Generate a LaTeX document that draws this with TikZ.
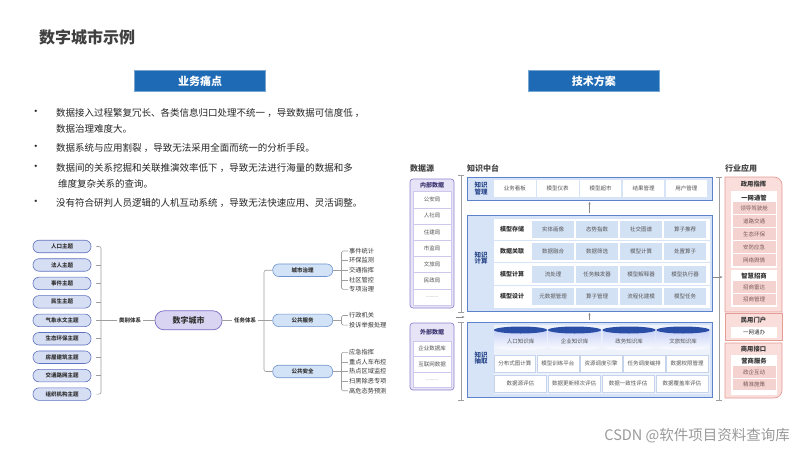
\documentclass[tikz,border=0pt]{standalone}
\usepackage{fontspec}
\setmainfont{Noto Sans CJK SC}
\usetikzlibrary{arrows.meta}
\newcommand\fsz[1]{\fontsize{#1}{#1}\selectfont}
\definecolor{titlegray}{HTML}{404040}
\definecolor{hdrblue}{HTML}{1E6AB5}
\definecolor{bodytext}{HTML}{262626}
\definecolor{darktext}{HTML}{333333}
\definecolor{topicb}{HTML}{5E72BF}
\definecolor{topicf}{HTML}{D6DEF4}
\definecolor{cityb}{HTML}{7B6CC6}
\definecolor{cityf}{HTML}{DAD4F3}
\definecolor{grpb}{HTML}{6F93CF}
\definecolor{grpf}{HTML}{D3E3F7}
\definecolor{mmgray}{HTML}{9E9E9E}
\definecolor{sectgray}{HTML}{444444}
\definecolor{dsborder}{HTML}{8F85D1}
\definecolor{dsfill}{HTML}{E8E4F7}
\definecolor{dscellb}{HTML}{CFC8EC}
\definecolor{dsheadc}{HTML}{3B3470}
\definecolor{kborder}{HTML}{5C82CC}
\definecolor{kfill}{HTML}{D7E3F6}
\definecolor{kcell}{HTML}{D3E1F5}
\definecolor{kcellb}{HTML}{C5D3EC}
\definecolor{klabc}{HTML}{2C4A8C}
\definecolor{celltext}{HTML}{555555}
\definecolor{cyltop}{HTML}{2A4DA6}
\definecolor{iborder}{HTML}{E59C95}
\definecolor{ifill}{HTML}{F9DEDB}
\definecolor{icellc}{HTML}{F4D2CF}
\definecolor{icelltext}{HTML}{7A5A58}
\definecolor{arrgray}{HTML}{888888}
\definecolor{wmgray}{HTML}{9A9A9A}
\begin{document}
\begin{tikzpicture}[x=1pt,y=-1pt,
  titlenode/.style={anchor=west, font=\fsz{16}\bfseries, text=titlegray, inner sep=0pt},
  hdr/.style={fill=hdrblue, draw=hdrblue!60!white, text=white, font=\fsz{11}\bfseries, minimum width=131pt, minimum height=21pt, inner sep=0pt, line width=0.6pt},
  bul/.style={anchor=west, font=\fsz{9.5}, text=bodytext, inner sep=0pt},
  bdot/.style={font=\fsz{11}, text=bodytext, inner sep=0pt},
  topic/.style={draw=topicb, fill=topicf, rounded corners=6pt, minimum width=58pt, minimum height=12.5pt, inner sep=0pt, font=\fsz{5.5}\bfseries, text=darktext, line width=0.6pt},
  city/.style={draw=cityb, fill=cityf, rounded corners=9pt, minimum width=67pt, minimum height=19pt, inner sep=0pt, font=\fsz{8}\bfseries, text=darktext, line width=0.7pt},
  grp/.style={draw=grpb, fill=grpf, rounded corners=6pt, minimum width=60pt, minimum height=12.5pt, inner sep=0pt, font=\fsz{5.5}\bfseries, text=darktext, line width=0.6pt},
  mmlab/.style={font=\fsz{5.5}\bfseries, text=darktext, inner sep=1.5pt},
  leaf/.style={anchor=west, font=\fsz{6.2}, text=darktext, inner sep=1pt},
  mm/.style={draw=mmgray, line width=0.6pt},
  sect/.style={anchor=west, font=\fsz{8}\bfseries, text=sectgray, inner sep=0pt},
  dsbox/.style={draw=dsborder, fill=dsfill, rounded corners=3pt, line width=0.7pt, inner sep=0pt},
  dscell/.style={draw=dscellb, fill=white, minimum width=38pt, inner sep=0pt, font=\fsz{5.5}, text=celltext, line width=0.4pt},
  dshead/.style={font=\fsz{6}\bfseries, text=dsheadc, inner sep=0pt},
  kbox/.style={draw=kborder, fill=kfill, line width=0.8pt, inner sep=0pt},
  klab/.style={font=\fsz{6.5}\bfseries, text=klabc, align=center, inner sep=0pt},
  kwcell/.style={fill=white, minimum height=17pt, inner sep=0pt, font=\fsz{5.5}, text=celltext},
  kbcell/.style={fill=kcell, minimum width=42.5pt, minimum height=17pt, inner sep=0pt, font=\fsz{5.5}, text=celltext},
  kecell/.style={fill=white, draw=kcellb, line width=0.4pt, minimum height=17pt, inner sep=0pt, font=\fsz{5.5}, text=celltext},
  rowlab/.style={font=\fsz{6}\bfseries, text=darktext, inner sep=0pt},
  sa/.style={-{Stealth[length=2.5pt,width=2.2pt]}, draw=arrgray, line width=0.4pt},
  brk/.style={draw=mmgray, line width=0.6pt},
  ibox/.style={draw=iborder, fill=ifill, line width=0.7pt},
  ihead/.style={font=\fsz{6.3}\bfseries, text=darktext, inner sep=0pt},
  icell/.style={fill=icellc, minimum width=43pt, minimum height=11.5pt, inner sep=0pt, font=\fsz{5.5}, text=icelltext},
  iwcell/.style={fill=white, minimum width=46pt, minimum height=11.5pt, inner sep=0pt, font=\fsz{5.5}, text=darktext}
]
\useasboundingbox (0,0) rectangle (800,450);
\fill[white] (0,0) rectangle (800,450);

% ---------- title and headers ----------
\node[titlenode] (title) at (39,37) {数字城市示例};
\node[hdr] (h1) at (200,80.8) {业务痛点};
\node[hdr] (h2) at (593.8,80.8) {技术方案};

% ---------- bullets ----------
\node[bdot] (d1) at (36,113) {•};
\node[bul] (b1) at (56,113) {数据接入过程繁复冗长、各类信息归口处理不统一 ，导致数据可信度低 ，};
\node[bul] (b1b) at (56,128.5) {数据治理难度大。};
\node[bdot] (d2) at (36,148) {•};
\node[bul] (b2) at (56,148) {数据系统与应用割裂 ，导致无法采用全面而统一的分析手段。};
\node[bdot] (d3) at (36,168) {•};
\node[bul] (b3) at (56,168) {数据间的关系挖掘和关联推演效率低下 ，导致无法进行海量的数据和多};
\node[bul] (b3b) at (58,184) {维度复杂关系的查询。};
\node[bdot] (d4) at (36,203) {•};
\node[bul] (b4) at (56,203) {没有符合研判人员逻辑的人机互动系统 ，导致无法快速应用、灵活调整。};

% ---------- mind map ----------
\foreach \t [count=\k] in {人口主题,法人主题,事件主题,民生主题,气象水文主题,生态环保主题,房屋建筑主题,交通路网主题,组织机构主题}
  \node[topic] (t\k) at (62,{246.5+18.45*(\k-1)}) {\t};
\coordinate (bx1) at (101,320.3);
\node[mmlab] (lb1) at (130,320.3) {类别体系};
\node[city] (city) at (188.5,320.3) {数字城市};
\node[mmlab] (lb2) at (245,320.3) {任务体系};
\coordinate (bx2) at (264,320.3);
\node[grp] (g1) at (302.7,270.2) {城市治理};
\node[grp] (g2) at (302.7,320.3) {公共服务};
\node[grp] (g3) at (302.7,371.5) {公共安全};

\draw[mm,rounded corners=2pt] ([xshift=5pt]t1.east) -- (t1.east -| bx1) -- (t9.east -| bx1) -- ([xshift=5pt]t9.east);
\foreach \k in {2,...,8} \draw[mm] ([xshift=5pt]t\k.east) -- (t\k.east -| bx1);
\draw[mm] (bx1) -- (lb1.west);
\draw[mm] (lb1.east) -- (city.west);
\draw[mm] (city.east) -- (lb2.west);
\draw[mm] (lb2.east) -- (bx2);
\draw[mm,rounded corners=2pt] (g1.west) -- (g1.west -| bx2) -- (g3.west -| bx2) -- (g3.west);
\draw[mm] (g2.west) -- (bx2);

\coordinate (cx) at (341.5,0);
\foreach \t [count=\k] in {事件统计,环保监测,交通指挥,社区管控,专项治理}
  \node[leaf] (la\k) at (348,{251+9.6*(\k-1)}) {\t};
\foreach \t [count=\k] in {行政机关,投诉举报处理}
  \node[leaf] (lb\k) at (348,{315.5+9.6*(\k-1)}) {\t};
\foreach \t [count=\k] in {应急指挥,重点人车布控,热点区域监控,扫黑除恶专项,高危态势预测}
  \node[leaf] (lc\k) at (348,{352.3+9.6*(\k-1)}) {\t};
\draw[mm] (g1.east) -- (g1.east -| cx);
\draw[mm,rounded corners=1.5pt] (la1.west) -- (la1.west -| cx) -- (la5.west -| cx) -- (la5.west);
\foreach \k in {2,3,4} \draw[mm] (la\k.west) -- (la\k.west -| cx);
\draw[mm] (g2.east) -- (g2.east -| cx);
\draw[mm,rounded corners=1.5pt] (lb1.west) -- (lb1.west -| cx) -- (lb2.west -| cx) -- (lb2.west);
\draw[mm] (g3.east) -- (g3.east -| cx);
\draw[mm,rounded corners=1.5pt] (lc1.west) -- (lc1.west -| cx) -- (lc5.west -| cx) -- (lc5.west);
\foreach \k in {2,3,4} \draw[mm] (lc\k.west) -- (lc\k.west -| cx);

% ---------- section titles ----------
\node[sect] (s1) at (410,168) {数据源};
\node[sect] (s2) at (467,168) {知识中台};
\node[sect] (s3) at (725,168) {行业应用};

% ---------- data sources ----------
\node[dsbox, minimum width=44pt, minimum height=129pt] (dsin) at (432,243.5) {};
\node[dshead] (dsinh) at (432,185) {内部数据};
\foreach \t [count=\k] in {公安局,人社局,住建局,市监局,文旅局,民政局,……}
  \node[dscell, minimum height=16.2pt] (dsi\k) at (432,{199.6+16.2*(\k-1)}) {\t};
\node[dsbox, minimum width=44pt, minimum height=67pt] (dsex) at (432,356.5) {};
\node[dshead] (dsexh) at (432,332.5) {外部数据};
\foreach \t [count=\k] in {企业数据库,互联网数据,……}
  \node[dscell, minimum height=15.5pt] (dse\k) at (432,{348.75+15.5*(\k-1)}) {\t};

% left brackets
\coordinate (lbt) at (461,175);
\coordinate (lbb) at (461,312);
\coordinate (lbt2) at (461,322);
\coordinate (lbb2) at (461,400);
\draw[brk] (lbt) -- (lbb);
\draw[brk] (lbt2) -- (lbb2);
\foreach \c in {lbt,lbb,lbt2,lbb2} \draw[brk] ([xshift=-3pt]\c) -- ([xshift=3pt]\c);
\coordinate (la0) at (455.5,317);
\coordinate (la9) at (464.5,317);
\draw[sa] (la0) -- (la9);

% ---------- knowledge management ----------
\node[kbox, minimum width=245pt, minimum height=23pt] (km) at (589.5,188.5) {};
\node[klab] (kml) at (481,188.5) {\fontsize{6.5}{8}\selectfont 知识\\管理};
\foreach \t [count=\k] in {业务看板,模型仪表,模型超市,结果管理,用户管理}
  \node[kwcell, minimum width=41.6pt] (km\k) at ({514.8+42.9*(\k-1)},188.5) {\t};

% ---------- knowledge computing ----------
\node[kbox, minimum width=245pt, minimum height=96pt] (kc) at (589.5,263) {};
\node[fill=white, minimum width=216pt, minimum height=89pt, inner sep=0pt] (kcin) at (602,263) {};
\foreach \y in {240.25,262.75,285.25} \draw[draw=kfill, line width=1pt] (494,\y) -- (710,\y);
\node[klab] (kcl) at (481,258) {\fontsize{6.5}{8}\selectfont 知识\\计算};
\node[rowlab] (r1) at (512,229) {模型存储};
\node[rowlab] (r2) at (512,251.5) {数据关联};
\node[rowlab] (r3) at (512,274) {模型计算};
\node[rowlab] (r4) at (512,296.5) {模型设计};
\foreach \t [count=\k] in {实体画像,态势指数,社交图谱,算子推荐}
  \node[kbcell] (c1\k) at ({553+44*(\k-1)},229) {\t};
\foreach \t [count=\k] in {数据融合,数据筛选,模型计算,处置算子}
  \node[kbcell] (c2\k) at ({553+44*(\k-1)},251.5) {\t};
\foreach \t [count=\k] in {流处理,任务触发器,模型解释器,模型执行器}
  \node[kbcell] (c3\k) at ({553+44*(\k-1)},274) {\t};
\foreach \t [count=\k] in {元数据管理,算子管理,流程化建模,模型任务}
  \node[kbcell] (c4\k) at ({553+44*(\k-1)},296.5) {\t};

% ---------- knowledge extraction ----------
\node[kbox, minimum width=245pt, minimum height=75pt] (ke) at (589.5,359.5) {};
\node[fill=kfill!45!white, minimum width=216pt, minimum height=69pt, inner sep=0pt] (kein) at (602,359.5) {};
\node[klab] (kel) at (481,358) {\fontsize{6.5}{8}\selectfont 知识\\抽取};
\foreach \xc/\t [count=\k] in {520.5/人口知识库,574.5/企业知识库,629/政务知识库,683/文旅知识库}{
  \shade[top color=kfill!90!blue!90, bottom color=white!90!kfill]
    (\xc-26.5,330) -- (\xc-26.5,347) arc[start angle=180,end angle=360,x radius=26.5pt,y radius=3pt] -- (\xc+26.5,330) -- cycle;
  \fill[cyltop] (\xc,330) ellipse [x radius=26.5pt, y radius=3.5pt];
  \node[font=\fsz{5.5}, text=celltext, inner sep=0pt] (db\k) at (\xc,341) {\t};
}
\foreach \t [count=\k] in {分布式图计算,模型训练平台,资源调度引擎,任务调度编排,数据权限管理}
  \node[kecell, minimum width=41.6pt] (e1\k) at ({514.8+43.1*(\k-1)},363.5) {\t};
\foreach \t [count=\k] in {数据源评估,数据更新频次评估,数据一致性评估,数据覆盖率评估}
  \node[kecell, minimum width=52.5pt] (e2\k) at ({520.25+53.9*(\k-1)},383.5) {\t};

\draw[sa, shorten >=1.5pt, shorten <=1.5pt] (kc.north) -- (km.south);
\draw[sa, shorten >=1.5pt, shorten <=1.5pt] (ke.north) -- (kc.south);

% right bracket
\coordinate (rbt) at (719,177);
\coordinate (rbb) at (719,400);
\draw[brk] (rbt) -- (rbb);
\foreach \c in {rbt,rbb} \draw[brk] ([xshift=-3pt]\c) -- ([xshift=3pt]\c);
\coordinate (ra0) at (713,277);
\coordinate (ra9) at (722.5,277);
\draw[sa] (ra0) -- (ra9);

% ---------- industry applications ----------
\draw[ibox] (725,312) -- (725,177) -- (774,177) arc[start angle=90,end angle=0,radius=8pt] -- (782,312) -- cycle;
\node[ihead] (zy) at (753.5,184.5) {政用指挥};
\fill[white] (731,191) rectangle (777,268);
\node[ihead] (ywtg) at (754,198) {一网通管};
\foreach \t [count=\k] in {领导驾驶舱,道路交通,生态环保,安防应急,网络舆情}
  \node[icell] (ia\k) at (754,{208+13*(\k-1)}) {\t};
\fill[white] (731,270) rectangle (777,307);
\node[ihead] (zhzs) at (754,276.5) {智慧招商};
\foreach \t [count=\k] in {招商雷达,招商管理}
  \node[icell] (ib\k) at (754,{287+12.5*(\k-1)}) {\t};

\draw[ibox] (725,313) rectangle (782,340);
\node[ihead] (mymh) at (753.5,320) {民用门户};
\node[iwcell] (ywtb) at (754,332.5) {一网通办};

\draw[ibox] (725,343) -- (782,343) -- (782,390) arc[start angle=0,end angle=-90,radius=8pt] -- (725,398) -- cycle;
\node[ihead] (syjk) at (753.5,349.5) {商用接口};
\fill[white] (731,355) rectangle (777,395);
\node[ihead] (ysfw) at (754,361) {营商服务};
\foreach \t [count=\k] in {政企互动,精准施策}
  \node[icell] (ic\k) at (754,{372+12.5*(\k-1)}) {\t};

% watermark
\node[anchor=east, font=\fsz{14.5}, text=wmgray, inner sep=0pt] (wm) at (790,436) {CSDN @软件项目资料查询库};
\end{tikzpicture}
\end{document}
